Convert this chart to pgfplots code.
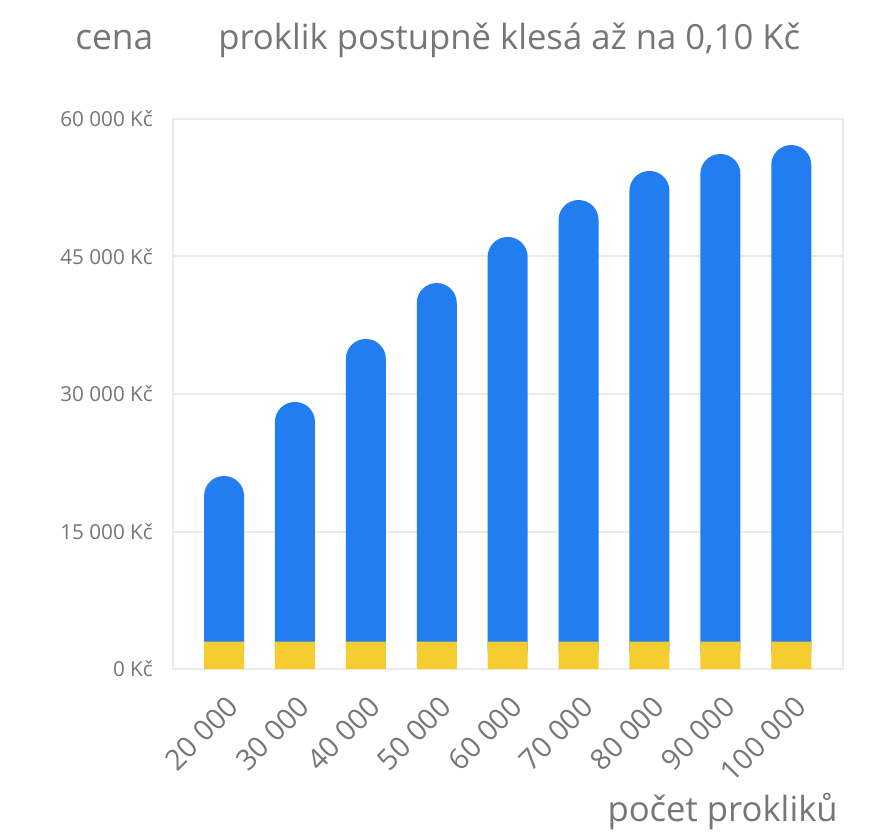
\documentclass[border=0pt]{standalone}
\usepackage{fontspec}
\setmainfont{Open Sans}
\usepackage{pgfplots}
\pgfplotsset{compat=1.18}
\definecolor{barblue}{HTML}{227EF0}
\definecolor{baryellow}{HTML}{F5CD30}
\definecolor{txtgray}{HTML}{767676}
\definecolor{gridgray}{HTML}{EBEBEB}
\begin{document}
\begin{tikzpicture}
\useasboundingbox (0,0) rectangle (652.5pt,624pt);
\begin{axis}[
  at={(129.75pt,122.25pt)}, anchor=south west,
  scale only axis, width=502.5pt, height=412.5pt,
  xmin=-0.72, xmax=8.73, ymin=0, ymax=60000,
  scaled y ticks=false,
  axis line style={gridgray, line width=1.5pt},
  ytick={0,15000,30000,45000,60000},
  yticklabels={0 Kč, 15 000 Kč, 30 000 Kč, 45 000 Kč, 60 000 Kč},
  ymajorgrids, grid style={gridgray, line width=1.5pt},
  xtick={0,...,8},
  xticklabels={20 000,30 000,40 000,50 000,60 000,70 000,80 000,90 000,100 000},
  major tick length=0pt,
  tick label style={txtgray, inner sep=0pt},
  yticklabel style={font=\fontsize{15.5}{18}\selectfont, anchor=east, xshift=-15pt},
  xticklabel style={font=\fontsize{21.5}{24}\selectfont, anchor=east, xshift=7pt, yshift=-24.5pt, rotate=45},
  /pgf/number format/assume math mode=true,
  ybar, bar width=30pt,
]
\addplot[fill=barblue, draw=none, bar shift=0pt, rounded corners=14.9pt] coordinates {
  (0,21050) (1,29130) (2,36000) (3,42100) (4,47130) (5,51160) (6,54330) (7,56180) (8,57160)};
\addplot[fill=baryellow, draw=none, bar shift=0pt] coordinates {
  (0,3000) (1,3000) (2,3000) (3,3000) (4,3000) (5,3000) (6,3000) (7,3000) (8,3000)};
\end{axis}
\node[anchor=base west, text=txtgray, font=\fontsize{26.5}{30}\selectfont, inner sep=0pt] at (56.25pt,586.5pt) {cena};
\node[anchor=base west, text=txtgray, font=\fontsize{26}{30}\selectfont, inner sep=0pt] at (163.5pt,586.5pt) {proklik postupně klesá až na 0,10 Kč};
\node[anchor=base east, text=txtgray, font=\fontsize{26}{30}\selectfont, inner sep=0pt] at (628.5pt,8.25pt) {počet prokliků};
\end{tikzpicture}
\end{document}
